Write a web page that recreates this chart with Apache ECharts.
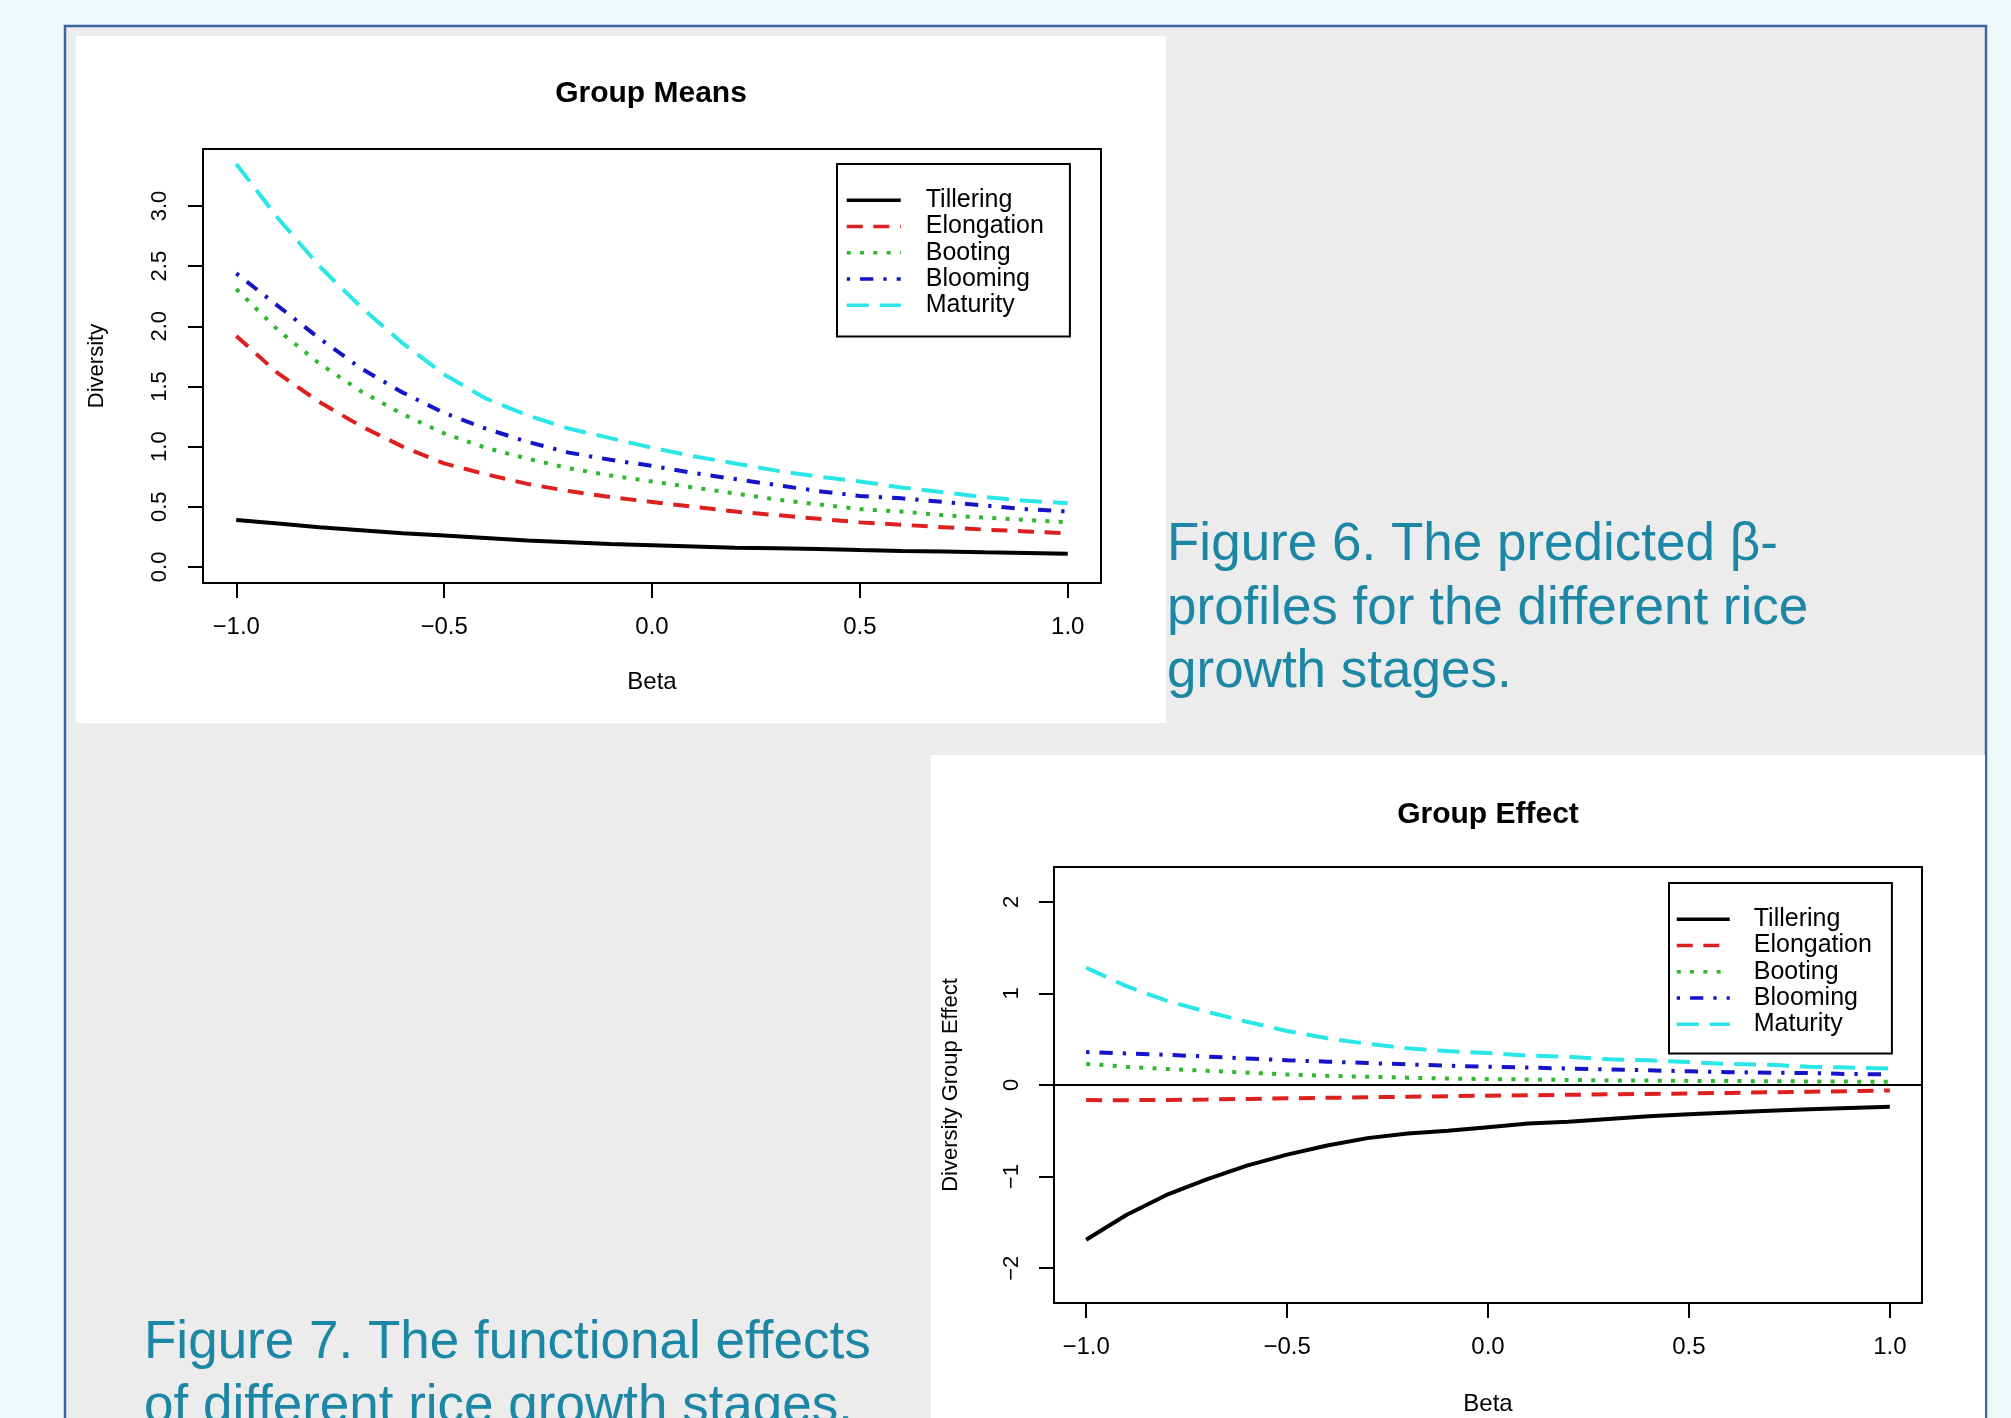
<!DOCTYPE html>
<html>
<head>
<meta charset="utf-8">
<title>Group Means / Group Effect</title>
<script src="https://cdn.jsdelivr.net/npm/echarts@6/dist/echarts.min.js"></script>
<style>
html, body { margin: 0; padding: 0; background: #f0f9f9; }
#chart { width: 2011px; height: 1418px; }
</style>
</head>
<body>
<div id="chart"></div>
<script>
// beta grid shared by both plots
const betaValues = [-1.0, -0.9, -0.8, -0.7, -0.6, -0.5, -0.4, -0.3, -0.2, -0.1, 0.0,
  0.1, 0.2, 0.3, 0.4, 0.5, 0.6, 0.7, 0.8, 0.9, 1.0]
const stageNames = ["Tillering", "Elongation", "Booting", "Blooming", "Maturity"]

// Figure 6 - Group Means
const meansTillering = [0.39, 0.36, 0.33, 0.305, 0.28, 0.26, 0.24, 0.22, 0.205, 0.19, 0.18,
  0.17, 0.16, 0.155, 0.148, 0.14, 0.133, 0.127, 0.121, 0.116, 0.11]
const meansElongation = [1.92, 1.61, 1.37, 1.17, 1.0, 0.86, 0.77, 0.69, 0.63, 0.58, 0.54,
  0.5, 0.46, 0.43, 0.4, 0.37, 0.35, 0.33, 0.31, 0.295, 0.28]
const meansBooting = [2.31, 1.97, 1.69, 1.46, 1.27, 1.11, 0.99, 0.9, 0.82, 0.76, 0.71,
  0.66, 0.61, 0.56, 0.52, 0.48, 0.46, 0.43, 0.41, 0.39, 0.37]
const meansBlooming = [2.44, 2.17, 1.9, 1.65, 1.45, 1.28, 1.15, 1.04, 0.95, 0.89, 0.84,
  0.78, 0.73, 0.68, 0.63, 0.59, 0.57, 0.54, 0.51, 0.48, 0.46]
const meansMaturity = [3.35, 2.9, 2.5, 2.16, 1.86, 1.6, 1.4, 1.26, 1.15, 1.07, 0.99,
  0.92, 0.86, 0.8, 0.75, 0.71, 0.66, 0.62, 0.58, 0.55, 0.53]

// Figure 7 - Group Effect
const effectTillering = [-1.69, -1.42, -1.2, -1.03, -0.88, -0.76, -0.66, -0.58, -0.53, -0.5, -0.46,
  -0.42, -0.4, -0.37, -0.34, -0.32, -0.3, -0.28, -0.265, -0.25, -0.237]
const effectElongation = [-0.165, -0.166, -0.163, -0.159, -0.152, -0.145, -0.14, -0.134, -0.128, -0.122, -0.117,
  -0.112, -0.107, -0.102, -0.097, -0.092, -0.086, -0.08, -0.074, -0.067, -0.06]
const effectBooting = [0.23, 0.2, 0.175, 0.155, 0.135, 0.115, 0.1, 0.09, 0.08, 0.07, 0.065,
  0.06, 0.055, 0.05, 0.048, 0.045, 0.043, 0.041, 0.039, 0.037, 0.035]
const effectBlooming = [0.36, 0.345, 0.33, 0.31, 0.29, 0.27, 0.255, 0.24, 0.225, 0.21, 0.2,
  0.19, 0.18, 0.17, 0.16, 0.15, 0.14, 0.135, 0.13, 0.12, 0.115]
const effectMaturity = [1.28, 1.08, 0.92, 0.8, 0.69, 0.59, 0.51, 0.45, 0.4, 0.37, 0.35,
  0.32, 0.31, 0.28, 0.27, 0.25, 0.23, 0.22, 0.2, 0.19, 0.18]

// tick labels
const betaTicks = [-1.0, -0.5, 0.0, 0.5, 1.0]
const meansTicks = [0.0, 0.5, 1.0, 1.5, 2.0, 2.5, 3.0]
const effectTicks = [-2, -1, 0, 1, 2]

const meansData = [meansTillering, meansElongation, meansBooting, meansBlooming, meansMaturity]
const effectData = [effectTillering, effectElongation, effectBooting, effectBlooming, effectMaturity]

// R style colours / lty
const stageColors = ["#000000", "#dc1f1f", "#2db82d", "#1414c8", "#2ae6e6"]
const stageDash = ["solid", [16, 10.6], [4, 9.3], [3.3, 10, 13.3, 10], [22, 11]]

const FONT = '"Liberation Sans", Arial, Helvetica, sans-serif'
const CAPTION = "#1c86a5"

const fmt1 = (v) => (v < 0 ? "\u2212" : "") + Math.abs(v).toFixed(1)
const fmt0 = (v) => (v < 0 ? "\u2212" : "") + Math.abs(v)

function makeSeries(data, idx) {
  return data.map((vals, i) => ({
    name: stageNames[i],
    type: "line",
    xAxisIndex: idx,
    yAxisIndex: idx,
    data: betaValues.map((b, k) => [b, vals[k]]),
    symbol: "none",
    showSymbol: false,
    silent: true,
    z: 2 + i,
    lineStyle: { color: stageColors[i], width: 4, type: stageDash[i], cap: "butt" },
    itemStyle: { color: stageColors[i] },
  }))
}

function xAxis(idx, margin, nameGap) {
  return {
    type: "value",
    gridIndex: idx,
    min: -1.08,
    max: 1.08,
    name: "Beta",
    nameLocation: "middle",
    nameGap: nameGap,
    nameTextStyle: { fontFamily: FONT, fontSize: 24, color: "#000" },
    axisLine: { show: false, onZero: false },
    axisTick: { show: true, length: 15, customValues: betaTicks, lineStyle: { color: "#000", width: 2 } },
    axisLabel: { customValues: betaTicks, formatter: fmt1, margin: margin, fontFamily: FONT, fontSize: 24, color: "#000" },
    splitLine: { show: false },
  }
}

function yAxis(idx, min, max, ticks, fmt, name, margin, nameGap) {
  return {
    type: "value",
    gridIndex: idx,
    min: min,
    max: max,
    name: name,
    nameLocation: "middle",
    nameRotate: 90,
    nameGap: nameGap,
    nameTextStyle: { fontFamily: FONT, fontSize: 22, color: "#000" },
    axisLine: { show: false, onZero: false },
    axisTick: { show: true, length: 15, customValues: ticks, lineStyle: { color: "#000", width: 2 } },
    axisLabel: { customValues: ticks, formatter: fmt, rotate: 90, margin: margin, fontFamily: FONT, fontSize: 22, color: "#000" },
    splitLine: { show: false },
  }
}

function legendBox(left, top, padding, itemWidth, textPad) {
  return {
    orient: "vertical",
    left: left,
    top: top,
    data: stageNames,
    padding: padding,
    itemWidth: itemWidth,
    itemHeight: 14,
    itemGap: 0,
    borderColor: "#000",
    borderWidth: 2,
    backgroundColor: "#fff",
    selectedMode: false,
    itemStyle: { opacity: 0 },
    lineStyle: { width: 3.5 },
    textStyle: { fontFamily: FONT, fontSize: 25, color: "#000", lineHeight: 26.3, padding: [0, 0, 0, textPad] },
  }
}

const chart = echarts.init(document.getElementById("chart"), null, { renderer: "canvas" })

const effectSeries = makeSeries(effectData, 1)
effectSeries[0].markLine = {
  silent: true,
  symbol: "none",
  label: { show: false },
  lineStyle: { color: "#000", width: 2, type: "solid" },
  data: [{ yAxis: 0 }],
}

chart.setOption({
  animation: false,
  backgroundColor: "#f0f9f9",
  title: [
    {
      text: "Group Means", left: 651, top: 79, padding: 0,
      textAlign: "center", textVerticalAlign: "top",
      textStyle: { fontFamily: FONT, fontSize: 30, fontWeight: "bold", color: "#000" },
    },
    {
      text: "Group Effect", left: 1488, top: 800, padding: 0,
      textAlign: "center", textVerticalAlign: "top",
      textStyle: { fontFamily: FONT, fontSize: 30, fontWeight: "bold", color: "#000" },
    },
  ],
  graphic: [
    {
      type: "rect", z: -10, silent: true,
      shape: { x: 65, y: 26, width: 1921, height: 1420 },
      style: { fill: "#ececec", stroke: "#3866a6", lineWidth: 2.5 },
    },
    {
      type: "rect", z: -9, silent: true,
      shape: { x: 76, y: 36, width: 1090, height: 687 },
      style: { fill: "#ffffff" },
    },
    {
      type: "rect", z: -9, silent: true,
      shape: { x: 931, y: 755, width: 1054, height: 700 },
      style: { fill: "#ffffff" },
    },
    {
      type: "text", z: 10, silent: true, x: 1167, y: 514,
      style: {
        text: "Figure 6. The predicted \u03b2-\nprofiles for the different rice\ngrowth stages.",
        font: "53px " + FONT, fill: CAPTION, lineHeight: 63.3,
        align: "left", verticalAlign: "top",
      },
    },
    {
      type: "text", z: 10, silent: true, x: 144, y: 1312,
      style: {
        text: "Figure 7. The functional effects\nof different rice growth stages.",
        font: "53px " + FONT, fill: CAPTION, lineHeight: 63.3,
        align: "left", verticalAlign: "top",
      },
    },
  ],
  legend: [
    legendBox(837, 164, [23, 26, 18, 8], 54, 20),
    legendBox(1669, 883, [23, 20, 16, 6], 53, 19),
  ],
  grid: [
    { left: 203, top: 149, width: 898, height: 434, show: true, borderColor: "#000", borderWidth: 2, backgroundColor: "transparent", containLabel: false, outerBoundsMode: "none" },
    { left: 1054, top: 867, width: 868, height: 436, show: true, borderColor: "#000", borderWidth: 2, backgroundColor: "transparent", containLabel: false, outerBoundsMode: "none" },
  ],
  xAxis: [xAxis(0, 32, 87), xAxis(1, 32, 89)],
  yAxis: [
    yAxis(0, -0.134, 3.474, meansTicks, fmt1, "Diversity", 32.5, 95),
    yAxis(1, -2.38, 2.38, effectTicks, fmt0, "Diversity Group Effect", 31, 92),
  ],
  series: makeSeries(meansData, 0).concat(effectSeries),
})
</script>
</body>
</html>
